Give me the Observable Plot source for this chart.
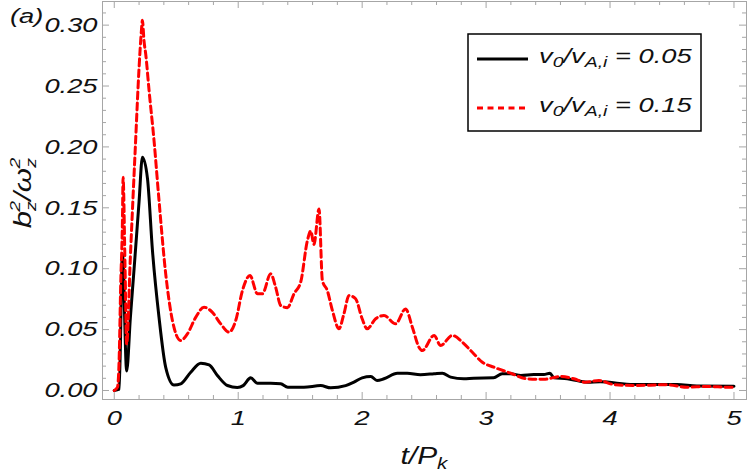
<!DOCTYPE html>
<html>
<head>
<meta charset="utf-8">
<script src="https://cdn.jsdelivr.net/npm/d3@7"></script>
<script src="https://cdn.jsdelivr.net/npm/@observablehq/plot@0.6"></script>
<style>
  html, body { margin: 0; padding: 0; background: #fff; }
  svg { display: block; }
</style>
</head>
<body>
<div id="chart"></div>
<script>
// ---- data ----
const seriesNames = ["v0/vA,i = 0.05", "v0/vA,i = 0.15"];

const tLow = [0, 0.04, 0.066, 0.1, 0.13, 0.16, 0.2, 0.227, 0.268, 0.308, 0.361, 0.415, 0.482, 0.536, 0.617, 0.698, 0.765, 0.832, 0.913, 0.993, 1.04, 1.087, 1.1, 1.155, 1.262, 1.343, 1.40, 1.53, 1.665, 1.746, 1.867, 1.934, 2.0, 2.07, 2.12, 2.176, 2.284, 2.364, 2.47, 2.58, 2.647, 2.714, 2.82, 2.9, 3.06, 3.13, 3.2, 3.28, 3.385, 3.466, 3.515, 3.547, 3.655, 3.75, 3.82, 3.92, 4.19, 4.54, 4.7, 5.0];
const vLow = [0, 0.001, 0.112, 0.016, 0.06, 0.1, 0.155, 0.1916, 0.174, 0.115, 0.060, 0.019, 0.0045, 0.0055, 0.015, 0.0224, 0.021, 0.0123, 0.0041, 0.0025, 0.004, 0.0096, 0.0105, 0.006, 0.006, 0.0055, 0.0027, 0.0027, 0.004, 0.0022, 0.004, 0.0068, 0.0104, 0.0115, 0.0082, 0.0096, 0.0142, 0.0142, 0.013, 0.0137, 0.0142, 0.011, 0.0096, 0.0101, 0.0104, 0.0137, 0.0137, 0.0123, 0.0131, 0.0131, 0.0142, 0.0104, 0.0096, 0.0078, 0.0068, 0.0072, 0.0049, 0.0049, 0.0037, 0.0035];

const tHigh = [0, 0.026, 0.039, 0.052, 0.066, 0.071, 0.087, 0.1, 0.13, 0.17, 0.2, 0.219, 0.227, 0.24, 0.254, 0.281, 0.321, 0.361, 0.415, 0.469, 0.536, 0.59, 0.657, 0.724, 0.79, 0.859, 0.926, 0.98, 1.034, 1.095, 1.155, 1.195, 1.262, 1.302, 1.343, 1.397, 1.45, 1.504, 1.558, 1.585, 1.611, 1.652, 1.679, 1.719, 1.76, 1.813, 1.853, 1.894, 1.947, 2.0, 2.04, 2.109, 2.176, 2.27, 2.35, 2.405, 2.458, 2.485, 2.58, 2.633, 2.727, 2.808, 2.889, 2.97, 3.063, 3.198, 3.33, 3.466, 3.6, 3.708, 3.80, 3.91, 4.03, 4.19, 4.46, 4.62, 4.78, 4.96, 5.0];
const vHigh = [0, 0.0027, 0.0246, 0.0876, 0.14, 0.175, 0.101, 0.038, 0.11, 0.2, 0.265, 0.2955, 0.304, 0.287, 0.276, 0.246, 0.205, 0.156, 0.0958, 0.0575, 0.041, 0.0465, 0.060, 0.0684, 0.0643, 0.0547, 0.0479, 0.0575, 0.082, 0.0944, 0.0794, 0.0794, 0.0958, 0.0848, 0.0698, 0.068, 0.0794, 0.089, 0.123, 0.131, 0.120, 0.149, 0.0903, 0.082, 0.0657, 0.0507, 0.063, 0.078, 0.0753, 0.0589, 0.0507, 0.0589, 0.0616, 0.0547, 0.067, 0.052, 0.0356, 0.0328, 0.0452, 0.037, 0.0452, 0.0397, 0.0314, 0.0232, 0.0191, 0.0142, 0.0096, 0.0092, 0.0115, 0.0096, 0.0068, 0.0082, 0.0049, 0.0041, 0.0047, 0.0027, 0.0033, 0.0027, 0.0027];

const xMajor = [0, 1, 2, 3, 4, 5];
const xLabels = ["0", "1", "2", "3", "4", "5"];
const xMinor = [0.2, 0.4, 0.6, 0.8, 1.2, 1.4, 1.6, 1.8, 2.2, 2.4, 2.6, 2.8, 3.2, 3.4, 3.6, 3.8, 4.2, 4.4, 4.6, 4.8];
const yMajor = [0, 0.05, 0.10, 0.15, 0.20, 0.25, 0.30];
const yLabels = ["0.00", "0.05", "0.10", "0.15", "0.20", "0.25", "0.30"];
const yMinor = [0.01, 0.02, 0.03, 0.04, 0.06, 0.07, 0.08, 0.09, 0.11, 0.12, 0.13, 0.14, 0.16, 0.17, 0.18, 0.19, 0.21, 0.22, 0.23, 0.24, 0.26, 0.27, 0.28, 0.29, 0.31];

// ---- layout ----
const W = 747, H = 472;
const mL = 102, mR = 1, mT = 1, mB = 73;
const fw = W - mL - mR, fh = H - mT - mB;
const STRETCH = 1.3;
const FONT = "Liberation Sans, Arial, sans-serif";
const frameColor = "#a6a6a6";

const low = tLow.map((t, i) => ({t, v: vLow[i]}));
const high = tHigh.map((t, i) => ({t, v: vHigh[i]}));
const xMaj = xMajor.map((x, i) => ({x, label: xLabels[i]}));
const yMaj = yMajor.map((y, i) => ({y, label: yLabels[i]}));

const majLen = 7, minLen = 4;

const svg = Plot.plot({
  width: W, height: H,
  marginLeft: mL, marginRight: mR, marginTop: mT, marginBottom: mB,
  style: {fontFamily: FONT, background: "#fff", overflow: "visible"},
  x: {domain: [-0.095, 5.101], axis: null},
  y: {domain: [-0.0074, 0.3194], axis: null},
  marks: [
    // ticks (inward, all four sides)
    Plot.ruleX(xMajor, {x: d => d, insetTop: fh - majLen, stroke: frameColor, strokeWidth: 1}),
    Plot.ruleX(xMinor, {x: d => d, insetTop: fh - minLen, stroke: frameColor, strokeWidth: 1}),
    Plot.ruleX(xMajor, {x: d => d, insetBottom: fh - majLen, stroke: frameColor, strokeWidth: 1}),
    Plot.ruleX(xMinor, {x: d => d, insetBottom: fh - minLen, stroke: frameColor, strokeWidth: 1}),
    Plot.ruleY(yMajor, {y: d => d, insetRight: fw - majLen, stroke: frameColor, strokeWidth: 1}),
    Plot.ruleY(yMinor, {y: d => d, insetRight: fw - minLen, stroke: frameColor, strokeWidth: 1}),
    Plot.ruleY(yMajor, {y: d => d, insetLeft: fw - majLen, stroke: frameColor, strokeWidth: 1}),
    Plot.ruleY(yMinor, {y: d => d, insetLeft: fw - minLen, stroke: frameColor, strokeWidth: 1}),
    Plot.frame({stroke: frameColor, strokeWidth: 1}),
    // tick labels
    Plot.text(xMaj, {x: "x", text: "label", frameAnchor: "bottom", lineAnchor: "middle", dy: 19, fontSize: 21, fontStyle: "italic", fill: "#111", textAnchor: "middle"}),
    Plot.text(yMaj, {y: "y", text: "label", frameAnchor: "left", lineAnchor: "middle", dx: -5, fontSize: 21, fontStyle: "italic", fill: "#111", textAnchor: "end"}),
    // series
    Plot.line(low, {x: "t", y: "v", stroke: "#000", strokeWidth: 3, curve: "monotone-x"}),
    Plot.line(high, {x: "t", y: "v", stroke: "#ff0000", strokeWidth: 3, strokeDasharray: "7,4", curve: "monotone-x"})
  ]
});

// stretch Plot's texts horizontally (reference glyphs are wide)
svg.querySelectorAll("text").forEach(t => {
  const tr = t.getAttribute("transform");
  if (tr) t.setAttribute("transform", tr + ` scale(${STRETCH},1)`);
});

document.getElementById("chart").appendChild(svg);

const s = d3.select(svg);
function label(x, y, anchor, size, build, rotate) {
  const g = s.append("g")
    .attr("transform", `translate(${x},${y})${rotate ? ` rotate(${rotate})` : ""} scale(${STRETCH},1)`);
  const t = g.append("text")
    .attr("text-anchor", anchor)
    .attr("font-family", FONT)
    .attr("font-size", size)
    .attr("font-style", "italic")
    .attr("fill", "#111");
  build(t);
  return t;
}

// panel label
label(10, 23, "start", 21, t => t.text("(a)"));

// x title: t/P_k
label(mL + fw / 2, 464, "middle", 23, t => {
  t.append("tspan").text("t/P");
  t.append("tspan").attr("font-size", 16).attr("dy", 5).text("k");
});

// y title: b_z^2 / ω_z^2
label(31, 193, "middle", 24, t => {
  t.append("tspan").text("b");
  t.append("tspan").attr("font-size", 15).attr("dy", 5).text("z");
  t.append("tspan").attr("font-size", 15).attr("dx", -8).attr("dy", -16).text("2");
  t.append("tspan").attr("font-size", 24).attr("dy", 11).text("/ω");
  t.append("tspan").attr("font-size", 15).attr("dy", 5).text("z");
  t.append("tspan").attr("font-size", 15).attr("dx", -8).attr("dy", -16).text("2");
}, -90);

// legend
const lg = s.append("g");
lg.append("rect").attr("x", 468).attr("y", 34).attr("width", 233).attr("height", 97)
  .attr("fill", "#fff").attr("stroke", "#000").attr("stroke-width", 1.5);
lg.append("line").attr("x1", 477).attr("x2", 528).attr("y1", 59).attr("y2", 59)
  .attr("stroke", "#000").attr("stroke-width", 3);
lg.append("line").attr("x1", 477).attr("x2", 528).attr("y1", 108).attr("y2", 108)
  .attr("stroke", "#ff0000").attr("stroke-width", 3).attr("stroke-dasharray", "6,4.5");
function legText(y, val) {
  label(539, y, "start", 21, t => {
    t.append("tspan").text("v");
    t.append("tspan").attr("font-size", 15).attr("dy", 4).text("0");
    t.append("tspan").attr("dy", -4).text("/v");
    t.append("tspan").attr("font-size", 15).attr("dy", 4).text("A,i");
    t.append("tspan").attr("dy", -4).text(" = " + val);
  });
}
legText(63, "0.05");
legText(112, "0.15");
</script>
</body>
</html>
